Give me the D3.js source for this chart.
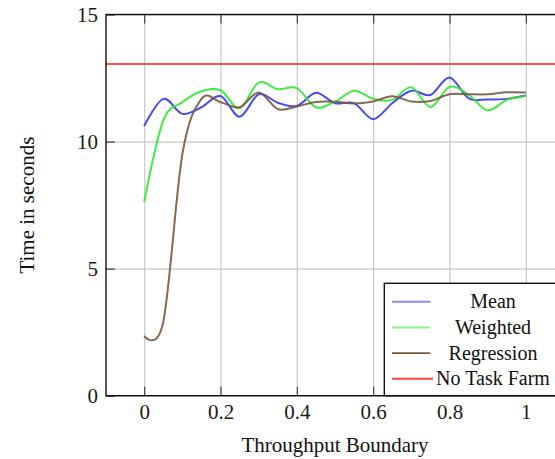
<!DOCTYPE html>
<html>
<head>
<style>
body { margin: 0; background: #fff; }
svg { display: block; font-family: "Liberation Serif", "Times New Roman", serif; }
.grid line { stroke: #c8c8c8; stroke-width: 1.2; }
.grid .domain { display: none; }
.lbl .domain, .lbl line { display: none; }
.lbl text { font-size: 21px; fill: #1a1a1a; font-family: "Liberation Serif", serif; }
.ticks line { stroke: #444; stroke-width: 1.2; }
.ticks .domain, .ticks text { display: none; }
</style>
</head>
<body>
<svg id="chart" width="555" height="459"></svg>
<script src="https://d3js.org/d3.v7.min.js"></script>
<script>

// throughput boundary values (x) and times in seconds (y)
var boundary = [0, 0.05, 0.1, 0.15, 0.2, 0.25, 0.3, 0.35, 0.4, 0.45, 0.5,
                0.55, 0.6, 0.65, 0.7, 0.75, 0.8, 0.85, 0.9, 0.95, 1];
var mean = [10.61, 11.68, 11.09, 11.35, 11.79, 10.98, 11.86, 11.53, 11.40, 11.92, 11.51,
            11.51, 10.88, 11.51, 12.00, 11.83, 12.52, 11.70, 11.66, 11.68, 11.81];
var weighted = [7.63, 10.82, 11.55, 11.98, 12.02, 11.31, 12.32, 12.06, 12.10, 11.35, 11.57,
                12.00, 11.68, 11.64, 12.14, 11.36, 12.15, 11.84, 11.23, 11.64, 11.79];
var regression = [2.35, 2.9, 9.5, 11.68, 11.55, 11.35, 11.93, 11.28, 11.38, 11.56, 11.57,
                  11.5, 11.58, 11.78, 11.58, 11.6, 11.86, 11.86, 11.86, 11.94, 11.93];
var noTaskFarm = 13.05;

var xTicks = [0, 0.2, 0.4, 0.6, 0.8, 1];
var yTicks = [0, 5, 10, 15];
var seriesNames = ["Mean", "Weighted", "Regression", "No Task Farm"];
var seriesColors = ["#3535f5", "#2ee82e", "#7a5a3e", "#ff1a1a"];

var svg = d3.select("#chart");
var pLeft = 106, pTop = 14.5, pRight = 564, pBottom = 395.7;

var x = d3.scaleLinear().domain([-0.1, 1.1]).range([pLeft, pRight]);
var y = d3.scaleLinear().domain([0, 15]).range([pBottom, pTop]);

// grid lines
svg.append("g")
    .attr("class", "grid")
    .attr("transform", "translate(0," + pBottom + ")")
    .call(d3.axisBottom(x).tickValues(xTicks).tickSize(-(pBottom - pTop)).tickFormat(""));
svg.append("g")
    .attr("class", "grid")
    .attr("transform", "translate(" + pLeft + ",0)")
    .call(d3.axisLeft(y).tickValues(yTicks).tickSize(-(pRight - pLeft)).tickFormat(""));

// inner tick marks
svg.append("g").attr("class", "ticks")
    .attr("transform", "translate(0," + pBottom + ")")
    .call(d3.axisBottom(x).tickValues(xTicks).tickSize(-9));
svg.append("g").attr("class", "ticks")
    .attr("transform", "translate(0," + pTop + ")")
    .call(d3.axisTop(x).tickValues(xTicks).tickSize(-9));
svg.append("g").attr("class", "ticks")
    .attr("transform", "translate(" + pLeft + ",0)")
    .call(d3.axisLeft(y).tickValues(yTicks).tickSize(-9));

// tick labels
svg.append("g")
    .attr("class", "lbl")
    .attr("transform", "translate(0," + (pBottom + 3) + ")")
    .call(d3.axisBottom(x).tickValues(xTicks).tickSize(0).tickPadding(5).tickFormat(d3.format("")));
svg.append("g")
    .attr("class", "lbl")
    .attr("transform", "translate(" + (pLeft - 2) + ",0)")
    .call(d3.axisLeft(y).tickValues(yTicks).tickSize(0).tickPadding(6));

// curves
var line = d3.line()
    .x(function(d, i) { return x(boundary[i]); })
    .y(function(d) { return y(d); })
    .curve(d3.curveCardinal.tension(0));

[mean, weighted, regression].forEach(function(s, i) {
  svg.append("path")
      .attr("d", line(s))
      .attr("fill", "none")
      .attr("stroke", seriesColors[i])
      .attr("stroke-opacity", 0.9)
      .attr("stroke-width", 2);
});

svg.append("line")
    .attr("x1", pLeft).attr("x2", pRight)
    .attr("y1", y(noTaskFarm)).attr("y2", y(noTaskFarm))
    .attr("stroke", seriesColors[3])
    .attr("stroke-width", 1.4);

// frame
svg.append("rect")
    .attr("x", pLeft).attr("y", pTop)
    .attr("width", pRight - pLeft).attr("height", pBottom - pTop)
    .attr("fill", "none")
    .attr("stroke", "#111")
    .attr("stroke-width", 1.4);

// legend
var lg = svg.append("g");
lg.append("rect")
    .attr("x", 384.3).attr("y", 283.3)
    .attr("width", 200).attr("height", pBottom - 283.3)
    .attr("fill", "#fff")
    .attr("stroke", "#111")
    .attr("stroke-width", 1.4);
var legendColors = ["#8a8aff", "#86f586", "#7a5a3e", "#ff4040"];
seriesNames.forEach(function(name, i) {
  var yy = 301.7 + i * 25.7;
  lg.append("line")
      .attr("x1", 392).attr("x2", i == 3 ? 433 : 430.3)
      .attr("y1", yy).attr("y2", yy)
      .attr("stroke", legendColors[i])
      .attr("stroke-width", i == 2 ? 1.6 : 2);
  lg.append("text")
      .attr("x", 493).attr("y", yy + 6.5)
      .attr("text-anchor", "middle")
      .attr("font-size", "20px")
      .attr("fill", "#111")
      .text(name);
});

// axis titles
svg.append("text")
    .attr("x", (pLeft + pRight) / 2).attr("y", 452)
    .attr("text-anchor", "middle")
    .attr("font-size", "21px")
    .attr("fill", "#111")
    .text("Throughput Boundary");

svg.append("text")
    .attr("transform", "translate(34," + ((pTop + pBottom) / 2) + ") rotate(-90)")
    .attr("text-anchor", "middle")
    .attr("font-size", "21px")
    .attr("fill", "#111")
    .text("Time in seconds");

</script>
</body>
</html>
